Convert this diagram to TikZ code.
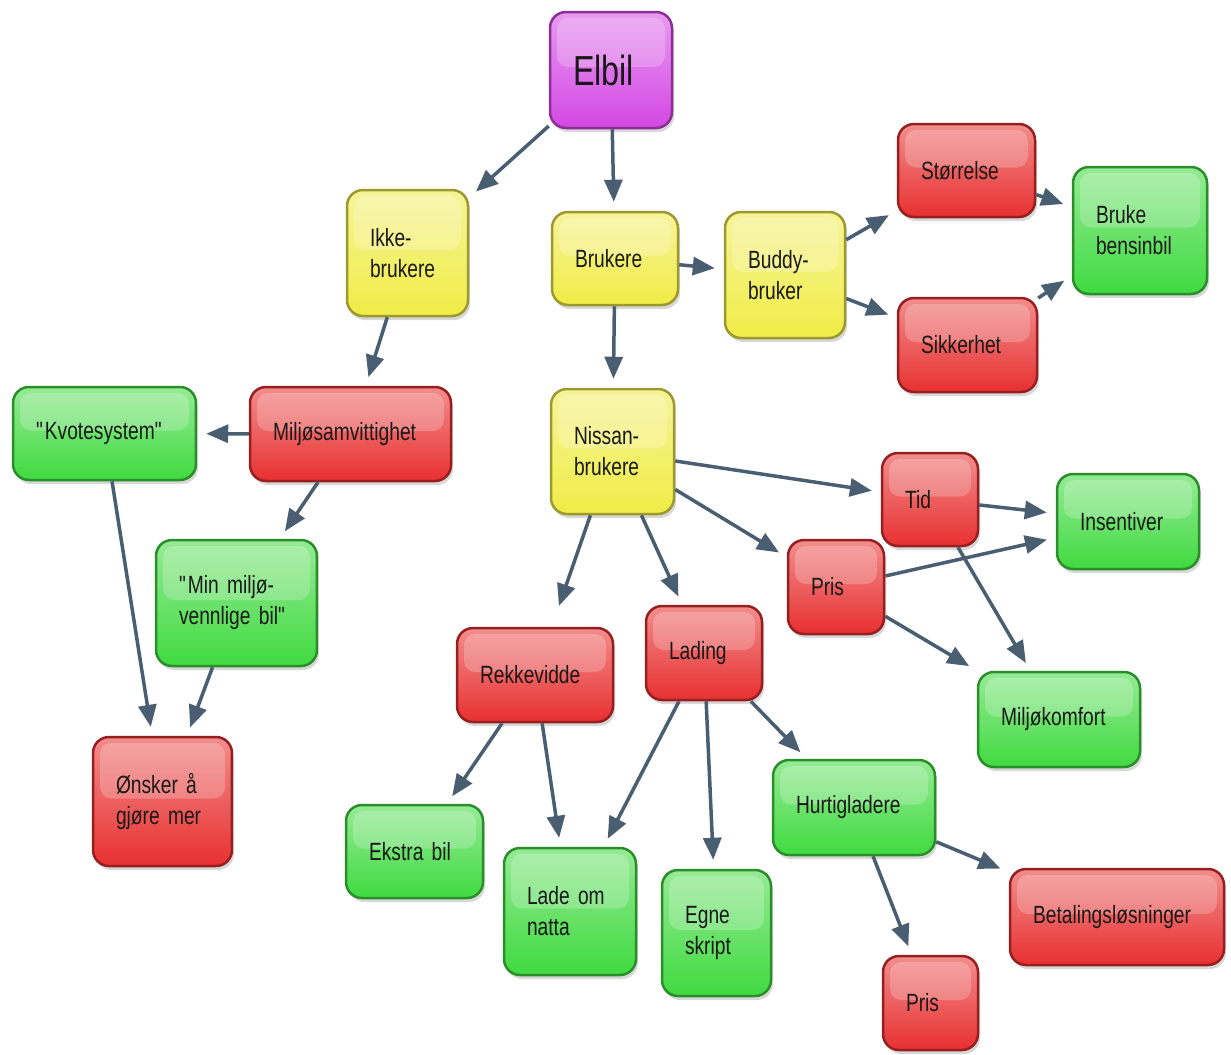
\documentclass[tikz,border=0pt]{standalone}
\usepackage{fontspec}
\setmainfont{Liberation Sans}[FakeStretch=0.77,WordSpace={0.8,0,0}]
\usetikzlibrary{arrows.meta,shadows}
\definecolor{elpurple}{RGB}{212,72,228}
\definecolor{elyellow}{RGB}{240,236,70}
\definecolor{elred}{RGB}{232,48,48}
\definecolor{elgreen}{RGB}{64,218,64}
\definecolor{elarrow}{RGB}{74,94,114}
\tikzset{
	box/.style={draw=#1!65!black,line width=0.05cm,rounded corners=0.32cm,top color=#1!55!white,bottom color=#1,
		drop shadow={opacity=0.3,shadow xshift=0.04cm,shadow yshift=-0.08cm},
		path picture={\fill[white,opacity=0.22,rounded corners=0.22cm] ([shift={(0.14cm,-0.12cm)}]path picture bounding box.north west) rectangle ([shift={(-0.14cm,0.06cm)}]path picture bounding box.east);},
		inner xsep=0.46cm,inner ysep=0pt,align=left,text=black!90,font=\fontsize{14.2pt}{17.6pt}\selectfont},
	sz/.style 2 args={text width={(#1-46)*0.02cm},minimum height={#2*0.02cm}},
	con/.style={->,line width=0.07cm,draw=elarrow,shorten >=0.18cm}
}
\begin{document}
\begin{tikzpicture}[x=0.02cm,y=-0.02cm,>={Triangle[length=0.44cm,width=0.36cm]}]
		\fill[white] (0,0) rectangle (1231,1055);\useasboundingbox (0,0) rectangle (1231,1055);
		\node[box=elpurple,sz={122}{116},font=\fontsize{23.9pt}{28pt}\selectfont] (elbil) at (611,70) {Elbil};
		\node[box=elyellow,sz={121}{126}] (ikke) at (407.5,253) {Ikke-\\brukere};
		\node[box=elyellow,sz={126}{93}] (brukere) at (615,258.5) {Brukere};
		\node[box=elyellow,sz={120}{126}] (buddy) at (785,275) {Buddy-\\bruker};
		\node[box=elyellow,sz={123}{125}] (nissan) at (612.5,451.5) {Nissan-\\brukere};
		\node[box=elred,sz={137}{93}] (storrelse) at (966.5,170.5) {Størrelse};
		\node[box=elred,sz={139}{94}] (sikkerhet) at (967.5,345) {Sikkerhet};
		\node[box=elgreen,sz={134}{127}] (bensin) at (1140,230.5) {Bruke\\bensinbil};
		\node[box=elred,sz={201}{94}] (samvit) at (350.5,434) {Miljøsamvittighet};
		\node[box=elgreen,sz={183}{93}] (kvote) at (104.5,433.5) {\textquotedbl Kvotesystem\textquotedbl};
		\node[box=elgreen,sz={161}{126}] (minbil) at (236.5,603) {\textquotedbl Min miljø-\\vennlige bil\textquotedbl};
		\node[box=elred,sz={139}{129}] (onsker) at (162.5,801.5) {Ønsker å\\gjøre mer};
		\node[box=elred,sz={96}{93}] (tid) at (930,499.5) {Tid};
		\node[box=elred,sz={96}{94}] (pris) at (836,587) {Pris};
		\node[box=elgreen,sz={142}{95}] (insentiver) at (1128,521.5) {Insentiver};
		\node[box=elgreen,sz={162}{95}] (komfort) at (1059,719.5) {Miljøkomfort};
		\node[box=elred,sz={156}{94}] (rekkevidde) at (535,675) {Rekkevidde};
		\node[box=elred,sz={116}{94}] (lading) at (704,653) {Lading};
		\node[box=elgreen,sz={137}{93}] (ekstra) at (414.5,851.5) {Ekstra bil};
		\node[box=elgreen,sz={132}{127}] (natta) at (570,911.5) {Lade om\\natta};
		\node[box=elgreen,sz={109}{126}] (skript) at (716.5,933) {Egne\\skript};
		\node[box=elgreen,sz={162}{95}] (hurtig) at (854,807.5) {Hurtigladere};
		\node[box=elred,sz={214}{96}] (betaling) at (1117,917) {Betalingsløsninger};
		\node[box=elred,sz={95}{94}] (prisb) at (930.5,1003) {Pris};
		\draw[con] (elbil) -- (ikke);\draw[con] (elbil) -- (brukere);
		\draw[con] (brukere) -- (buddy);\draw[con] (brukere) -- (nissan);
		\draw[con] (buddy) -- (storrelse);\draw[con] (buddy) -- (sikkerhet);
		\draw[con] (storrelse) -- (bensin);\draw[con] (sikkerhet) -- (bensin);
		\draw[con] (ikke) -- (samvit);\draw[con] (samvit) -- (kvote);\draw[con] (samvit) -- (minbil);
		\draw[con] (kvote) -- (onsker);\draw[con] (minbil) -- (onsker);
		\draw[con] (nissan) -- (tid);\draw[con] (nissan) -- (pris);
		\draw[con,shorten >=0.44cm] (nissan) -- (rekkevidde);\draw[con] (nissan) -- (lading);
		\draw[con] (tid) -- (insentiver);\draw[con] (tid) -- (komfort);
		\draw[con] (pris) -- (insentiver);\draw[con] (pris) -- (komfort);
		\draw[con] (rekkevidde) -- (ekstra);\draw[con] (rekkevidde) -- (natta);
		\draw[con] (lading) -- (natta);\draw[con] (lading) -- (skript);\draw[con] (lading) -- (hurtig);
		\draw[con] (hurtig) -- (betaling);\draw[con] (hurtig) -- (prisb);
	\end{tikzpicture}
\end{document}
